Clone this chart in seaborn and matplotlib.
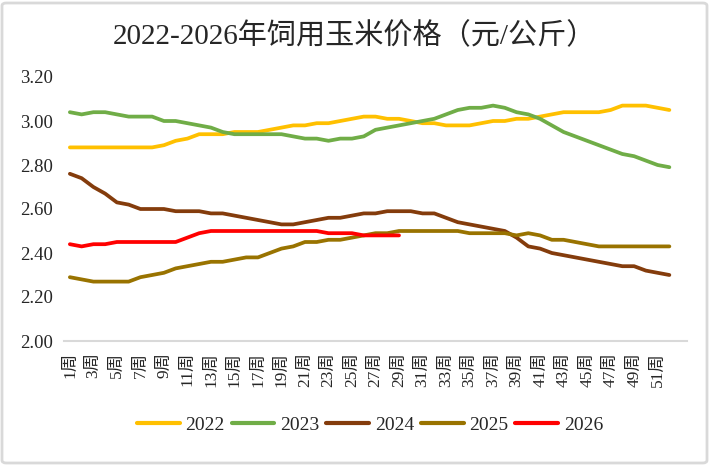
import matplotlib
matplotlib.use("Agg")
import matplotlib.pyplot as plt
import matplotlib.patches as mpatches
import seaborn as sns
import pandas as pd
import numpy as np

# ---------------- data ----------------
weeks = list(range(1, 53))
years = ["2022", "2023", "2024", "2025", "2026"]
p2022 = [2.88, 2.88, 2.88, 2.88, 2.88, 2.88, 2.88, 2.88, 2.89, 2.91,
         2.92, 2.94, 2.94, 2.94, 2.95, 2.95, 2.95, 2.96, 2.97, 2.98,
         2.98, 2.99, 2.99, 3.00, 3.01, 3.02, 3.02, 3.01, 3.01, 3.00,
         2.99, 2.99, 2.98, 2.98, 2.98, 2.99, 3.00, 3.00, 3.01, 3.01,
         3.02, 3.03, 3.04, 3.04, 3.04, 3.04, 3.05, 3.07, 3.07, 3.07,
         3.06, 3.05]
p2023 = [3.04, 3.03, 3.04, 3.04, 3.03, 3.02, 3.02, 3.02, 3.00, 3.00,
         2.99, 2.98, 2.97, 2.95, 2.94, 2.94, 2.94, 2.94, 2.94, 2.93,
         2.92, 2.92, 2.91, 2.92, 2.92, 2.93, 2.96, 2.97, 2.98, 2.99,
         3.00, 3.01, 3.03, 3.05, 3.06, 3.06, 3.07, 3.06, 3.04, 3.03,
         3.01, 2.98, 2.95, 2.93, 2.91, 2.89, 2.87, 2.85, 2.84, 2.82,
         2.80, 2.79]
p2024 = [2.76, 2.74, 2.70, 2.67, 2.63, 2.62, 2.60, 2.60, 2.60, 2.59,
         2.59, 2.59, 2.58, 2.58, 2.57, 2.56, 2.55, 2.54, 2.53, 2.53,
         2.54, 2.55, 2.56, 2.56, 2.57, 2.58, 2.58, 2.59, 2.59, 2.59,
         2.58, 2.58, 2.56, 2.54, 2.53, 2.52, 2.51, 2.50, 2.47, 2.43,
         2.42, 2.40, 2.39, 2.38, 2.37, 2.36, 2.35, 2.34, 2.34, 2.32,
         2.31, 2.30]
p2025 = [2.29, 2.28, 2.27, 2.27, 2.27, 2.27, 2.29, 2.30, 2.31, 2.33,
         2.34, 2.35, 2.36, 2.36, 2.37, 2.38, 2.38, 2.40, 2.42, 2.43,
         2.45, 2.45, 2.46, 2.46, 2.47, 2.48, 2.49, 2.49, 2.50, 2.50,
         2.50, 2.50, 2.50, 2.50, 2.49, 2.49, 2.49, 2.49, 2.48, 2.49,
         2.48, 2.46, 2.46, 2.45, 2.44, 2.43, 2.43, 2.43, 2.43, 2.43,
         2.43, 2.43]
p2026 = [2.44, 2.43, 2.44, 2.44, 2.45, 2.45, 2.45, 2.45, 2.45, 2.45,
         2.47, 2.49, 2.50, 2.50, 2.50, 2.50, 2.50, 2.50, 2.50, 2.50,
         2.50, 2.50, 2.49, 2.49, 2.49, 2.48, 2.48, 2.48, 2.48]
tick_weeks = list(range(1, 52, 2))
tick_labels = [f"{w}周" for w in tick_weeks]
y_ticks = [2.00, 2.20, 2.40, 2.60, 2.80, 3.00, 3.20]
title = "2022-2026年饲用玉米价格（元/公斤）"

colors = {"2022": "#FFC000", "2023": "#70AD47", "2024": "#843C0C",
          "2025": "#997300", "2026": "#FF0000"}

series = {"2022": p2022, "2023": p2023, "2024": p2024, "2025": p2025, "2026": p2026}
rows = []
for y in years:
    for w, v in zip(weeks, series[y]):
        rows.append({"week": w, "year": y, "price": v})
df = pd.DataFrame(rows)

# ---------------- style ----------------
sns.set_theme(style="white")
plt.rcParams["font.family"] = ["Liberation Serif", "Noto Sans CJK SC", "DejaVu Sans"]
plt.rcParams["axes.unicode_minus"] = False

W, H = 710, 465
fig = plt.figure(figsize=(W / 100, H / 100), dpi=100)
fig.patch.set_facecolor("white")

ax = fig.add_axes([64 / W, 1 - 341 / H, (687 - 64) / W, (341 - 77) / H])
sns.lineplot(data=df, x="week", y="price", hue="year", hue_order=years,
             palette=colors, linewidth=2.7, ax=ax, legend=False,
             solid_capstyle="round", solid_joinstyle="round")

ax.set_xlim(0.5, 53.5)
ax.set_ylim(2.0, 3.2)
ax.set_yticks(y_ticks)
ax.set_yticklabels([f"{v:.2f}" for v in y_ticks], fontsize=13.5)
ax.set_xticks(tick_weeks)
ax.set_xticklabels(tick_labels, rotation=90, fontsize=12.5, va="top", ha="center")
ax.tick_params(axis="both", length=0)
ax.tick_params(axis="y", pad=8)
ax.tick_params(axis="x", pad=8)
ax.set_xlabel("")
ax.set_ylabel("")
ax.grid(False)
for s in ["left", "right", "top"]:
    ax.spines[s].set_visible(False)
ax.spines["bottom"].set_color("#d9d9d9")
ax.spines["bottom"].set_linewidth(1.5)

fig.text(354 / W, 1 - 36 / H, title, ha="center", va="center", fontsize=21)

handles = [plt.Line2D([0], [0], color=colors[y], lw=3.0, solid_capstyle="round") for y in years]
fig.legend(handles, years, loc="center", bbox_to_anchor=(370 / W, 1 - 425 / H),
           ncol=5, frameon=False, fontsize=14, handlelength=2.2,
           handletextpad=0.3, columnspacing=0.35)

border = mpatches.FancyBboxPatch((2 / W, 2 / H), (W - 5) / W, (H - 5) / H,
                                 boxstyle="round,pad=0,rounding_size=0.006",
                                 transform=fig.transFigure, fill=False,
                                 edgecolor="#d9d9d9", linewidth=2.0)
fig.patches.append(border)

fig.savefig("out.png", dpi=100, facecolor="white")
